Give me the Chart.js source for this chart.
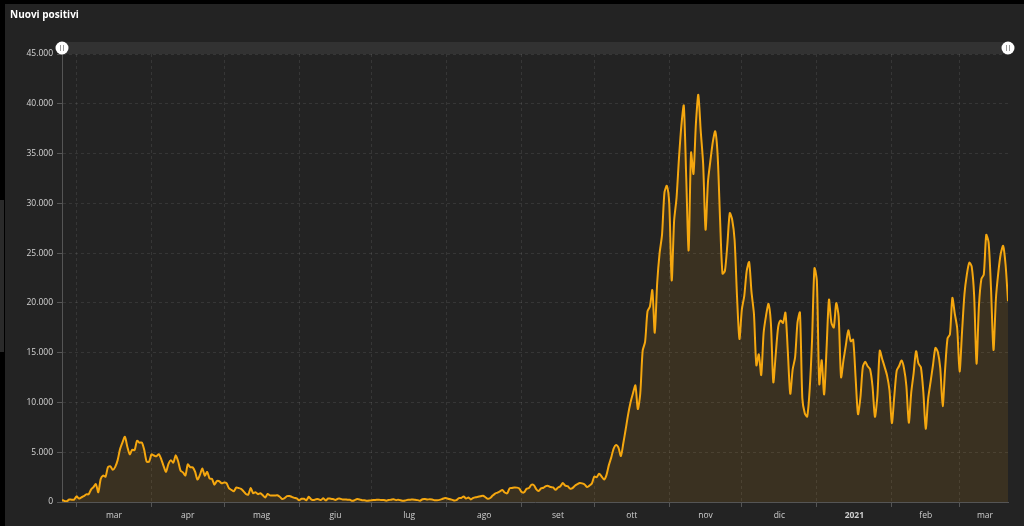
<!DOCTYPE html>
<html>
<head>
<meta charset="utf-8">
<script src="https://cdn.jsdelivr.net/npm/chart.js@4/dist/chart.umd.min.js"></script>
<style>
html,body{margin:0;padding:0;background:#000;}
#wrap{width:1024px;height:526px;position:relative;}
</style>
</head>
<body>
<div id="wrap"><canvas id="c"></canvas></div>
<script>
// ---- DATA (Nuovi positivi, one value per day starting 2020-02-24) ----
const startDate = '2020-02-24';
const feb2020 = [221, 93, 78, 250, 238, 240];
const mar2020 = [566, 342, 466, 587, 769, 778, 1247, 1492, 1797, 977, 2313, 2651, 2547, 3497, 3590, 3233, 3526, 4207, 5322, 5986, 6557, 5560, 4789, 5249, 5210, 6153, 5959, 5974, 5217, 4050, 4053];
const apr2020 = [4782, 4668, 4585, 4805, 4316, 3599, 3039, 3836, 4204, 3951, 4694, 4092, 3153, 2972, 2667, 3786, 3493, 3491, 3047, 2256, 2729, 3370, 2646, 3021, 2357, 2324, 1739, 2091, 2086, 1872];
const may2020 = [1965, 1900, 1389, 1221, 1075, 1444, 1401, 1327, 1083, 802, 744, 1402, 888, 992, 789, 875, 675, 451, 813, 665, 642, 652, 669, 531, 300, 397, 584, 593, 516, 416, 355];
const jun2020 = [178, 318, 321, 177, 518, 270, 197, 280, 283, 202, 379, 163, 346, 338, 301, 210, 329, 333, 251, 262, 224, 218, 122, 190, 296, 259, 175, 174, 126, 142];
const jul2020 = [187, 201, 223, 235, 192, 208, 138, 193, 229, 276, 188, 234, 169, 114, 162, 230, 233, 249, 219, 190, 129, 282, 306, 252, 275, 255, 170, 181, 212, 289, 386];
const aug2020 = [379, 295, 239, 159, 190, 384, 402, 552, 347, 463, 259, 412, 481, 523, 574, 629, 479, 320, 403, 642, 845, 947, 1071, 1210, 953, 876, 1367, 1411, 1462, 1444, 1365];
const sep2020 = [996, 975, 1326, 1397, 1733, 1695, 1297, 1108, 1370, 1434, 1597, 1616, 1501, 1458, 1229, 1452, 1585, 1907, 1638, 1587, 1350, 1392, 1640, 1786, 1912, 1869, 1766, 1494, 1648, 1851];
const oct2020 = [2548, 2499, 2844, 2578, 2257, 2677, 3678, 4458, 5372, 5724, 5456, 4619, 5901, 7332, 8804, 10010, 10925, 11705, 9338, 10874, 15199, 16079, 19143, 19644, 21273, 17012, 21994, 24991, 26831, 31084, 31758];
const nov2020 = [29907, 22253, 28244, 30550, 34505, 37809, 39811, 32616, 25271, 35098, 32961, 37978, 40902, 37255, 33979, 27354, 32191, 34283, 36176, 37242, 34767, 28337, 22930, 23232, 25853, 29003, 28352, 26323, 20648, 16377];
const dec2020 = [19350, 20709, 23225, 24099, 21052, 18887, 13720, 14842, 12756, 16999, 18727, 19903, 17938, 12030, 14844, 17572, 18236, 17992, 19011, 15104, 10872, 13318, 14522, 18040, 19037, 10407, 8913, 8585, 11212, 16202, 23477];
const jan2021 = [22211, 11831, 14245, 10800, 15378, 20331, 18020, 17533, 19978, 18627, 12532, 14242, 15774, 17246, 16146, 16310, 12545, 8824, 10497, 13571, 14078, 13633, 13331, 11629, 8561, 10593, 15204, 14372, 13574, 12715, 11252];
const feb2021 = [7925, 10630, 13189, 13659, 14218, 13442, 11641, 7970, 10995, 12956, 15146, 13908, 13532, 11068, 7351, 10386, 12074, 13762, 15479, 15074, 13452, 9630, 13314, 16424, 16833, 20499, 18916, 17455];
const mar2021 = [13114, 17083, 20884, 22865, 24036, 23641, 20765, 13902, 19749, 22409, 22865, 26824, 26062, 21315, 15267, 20396, 23059, 24935, 25735, 23832, 20159];

const monthLabels = ['mar', 'apr', 'mag', 'giu', 'lug', 'ago', 'set', 'ott', 'nov', 'dic', '2021', 'feb', 'mar'];
const monthStarts = ['2020-03-01', '2020-04-01', '2020-05-01', '2020-06-01', '2020-07-01', '2020-08-01', '2020-09-01', '2020-10-01', '2020-11-01', '2020-12-01', '2021-01-01', '2021-02-01', '2021-03-01'];
const yTickMax = 45000;
const yTickStep = 5000;
const chartTitle = 'Nuovi positivi';

// ---- BUILD ----
const values = [].concat(feb2020, mar2020, apr2020, may2020, jun2020, jul2020, aug2020, sep2020, oct2020, nov2020, dec2020, jan2021, feb2021, mar2021);
const DAY = 86400000;
const t0 = Date.parse(startDate + 'T00:00:00Z');
const dayIdx = d => Math.round((Date.parse(d + 'T00:00:00Z') - t0) / DAY);
const startIdx = monthStarts.map(dayIdx);
const lastIdx = values.length - 1;
const midIdx = startIdx.map((s, k) => (s + (k + 1 < startIdx.length ? startIdx[k + 1] : values.length)) / 2);
const startSet = new Set(startIdx);
const labelAt = new Map(midIdx.map((m, k) => [m, monthLabels[k]]));
const points = values.map((v, i) => ({x: i, y: v}));

const fmt = v => String(v).replace(/\B(?=(\d{3})+(?!\d))/g, '.');
const GRID = 'rgba(255,255,255,0.09)';
const AXIS = '#555555';
const FONT = "'Open Sans', 'Noto Sans', sans-serif";

const panelPlugin = {
  id: 'panel',
  beforeDraw(chart) {
    const ctx = chart.ctx;
    ctx.save();
    ctx.fillStyle = '#000';
    ctx.fillRect(0, 0, chart.width, chart.height);
    ctx.fillStyle = '#232323';
    ctx.fillRect(5, 4, chart.width - 5, chart.height - 4);
    ctx.fillStyle = '#2a2a2a';
    ctx.fillRect(0, 200, 4, 152);
    ctx.restore();
  },
  afterDraw(chart) {
    const ctx = chart.ctx;
    const a = chart.chartArea;
    ctx.save();
    ctx.fillStyle = '#323232';
    ctx.fillRect(a.left, 42, a.right - a.left, 12);
    [a.left, a.right].forEach(cx => {
      ctx.beginPath();
      ctx.arc(cx, 48, 6.5, 0, Math.PI * 2);
      ctx.fillStyle = '#ffffff';
      ctx.fill();
      ctx.strokeStyle = '#9a9a9a';
      ctx.lineWidth = 1;
      ctx.beginPath();
      ctx.moveTo(cx - 1.5, 45); ctx.lineTo(cx - 1.5, 51);
      ctx.moveTo(cx + 1.5, 45); ctx.lineTo(cx + 1.5, 51);
      ctx.stroke();
    });
    ctx.restore();
  }
};

new Chart(document.getElementById('c'), {
  type: 'line',
  data: {
    datasets: [{
      label: chartTitle,
      data: points,
      borderColor: '#f5a70f',
      backgroundColor: 'rgba(245,167,15,0.11)',
      borderWidth: 2,
      pointRadius: 0,
      tension: 0.25,
      fill: 'origin'
    }]
  },
  options: {
    responsive: true,
    maintainAspectRatio: false,
    animation: false,
    layout: {padding: {left: 10, right: 16, top: 0, bottom: 0}},
    plugins: {
      legend: {display: false},
      tooltip: {enabled: false},
      title: {
        display: true,
        text: chartTitle,
        align: 'start',
        color: '#ffffff',
        font: {family: FONT, size: 10, weight: 'bold', lineHeight: 1.2},
        padding: {top: 9, bottom: 33}
      }
    },
    scales: {
      x: {
        type: 'linear',
        bounds: 'data',
        min: 0,
        max: lastIdx,
        afterBuildTicks(scale) {
          const all = [...startIdx, ...midIdx].filter(v => v >= 0 && v <= lastIdx).sort((a, b) => a - b);
          scale.ticks = all.map(v => ({value: v}));
        },
        afterFit(scale) { scale.height = 24; },
        grid: {
          color: c => (c.tick && startSet.has(c.tick.value)) ? GRID : 'rgba(0,0,0,0)',
          tickColor: c => (c.tick && startSet.has(c.tick.value)) ? AXIS : 'rgba(0,0,0,0)',
          tickLength: 5,
          lineWidth: 1
        },
        border: {display: true, color: AXIS, width: 1, dash: [3, 3]},
        ticks: {
          autoSkip: false,
          maxRotation: 0,
          padding: 3,
          color: '#cfcfcf',
          font: c => ({family: FONT, size: 8.5, weight: (c.tick && labelAt.get(c.tick.value) === '2021') ? 'bold' : 'normal'}),
          callback: v => labelAt.has(v) ? labelAt.get(v) : ''
        }
      },
      y: {
        min: 0,
        max: yTickMax,
        afterFit(scale) { scale.width = 52; },
        grid: {color: GRID, tickColor: AXIS, tickLength: 5, lineWidth: 1},
        border: {display: true, color: AXIS, width: 1, dash: [3, 3]},
        ticks: {
          stepSize: yTickStep,
          padding: 4,
          color: '#d5d5d5',
          font: {family: FONT, size: 8.5},
          callback: v => fmt(v)
        }
      }
    }
  },
  plugins: [panelPlugin]
});
</script>
</body>
</html>
